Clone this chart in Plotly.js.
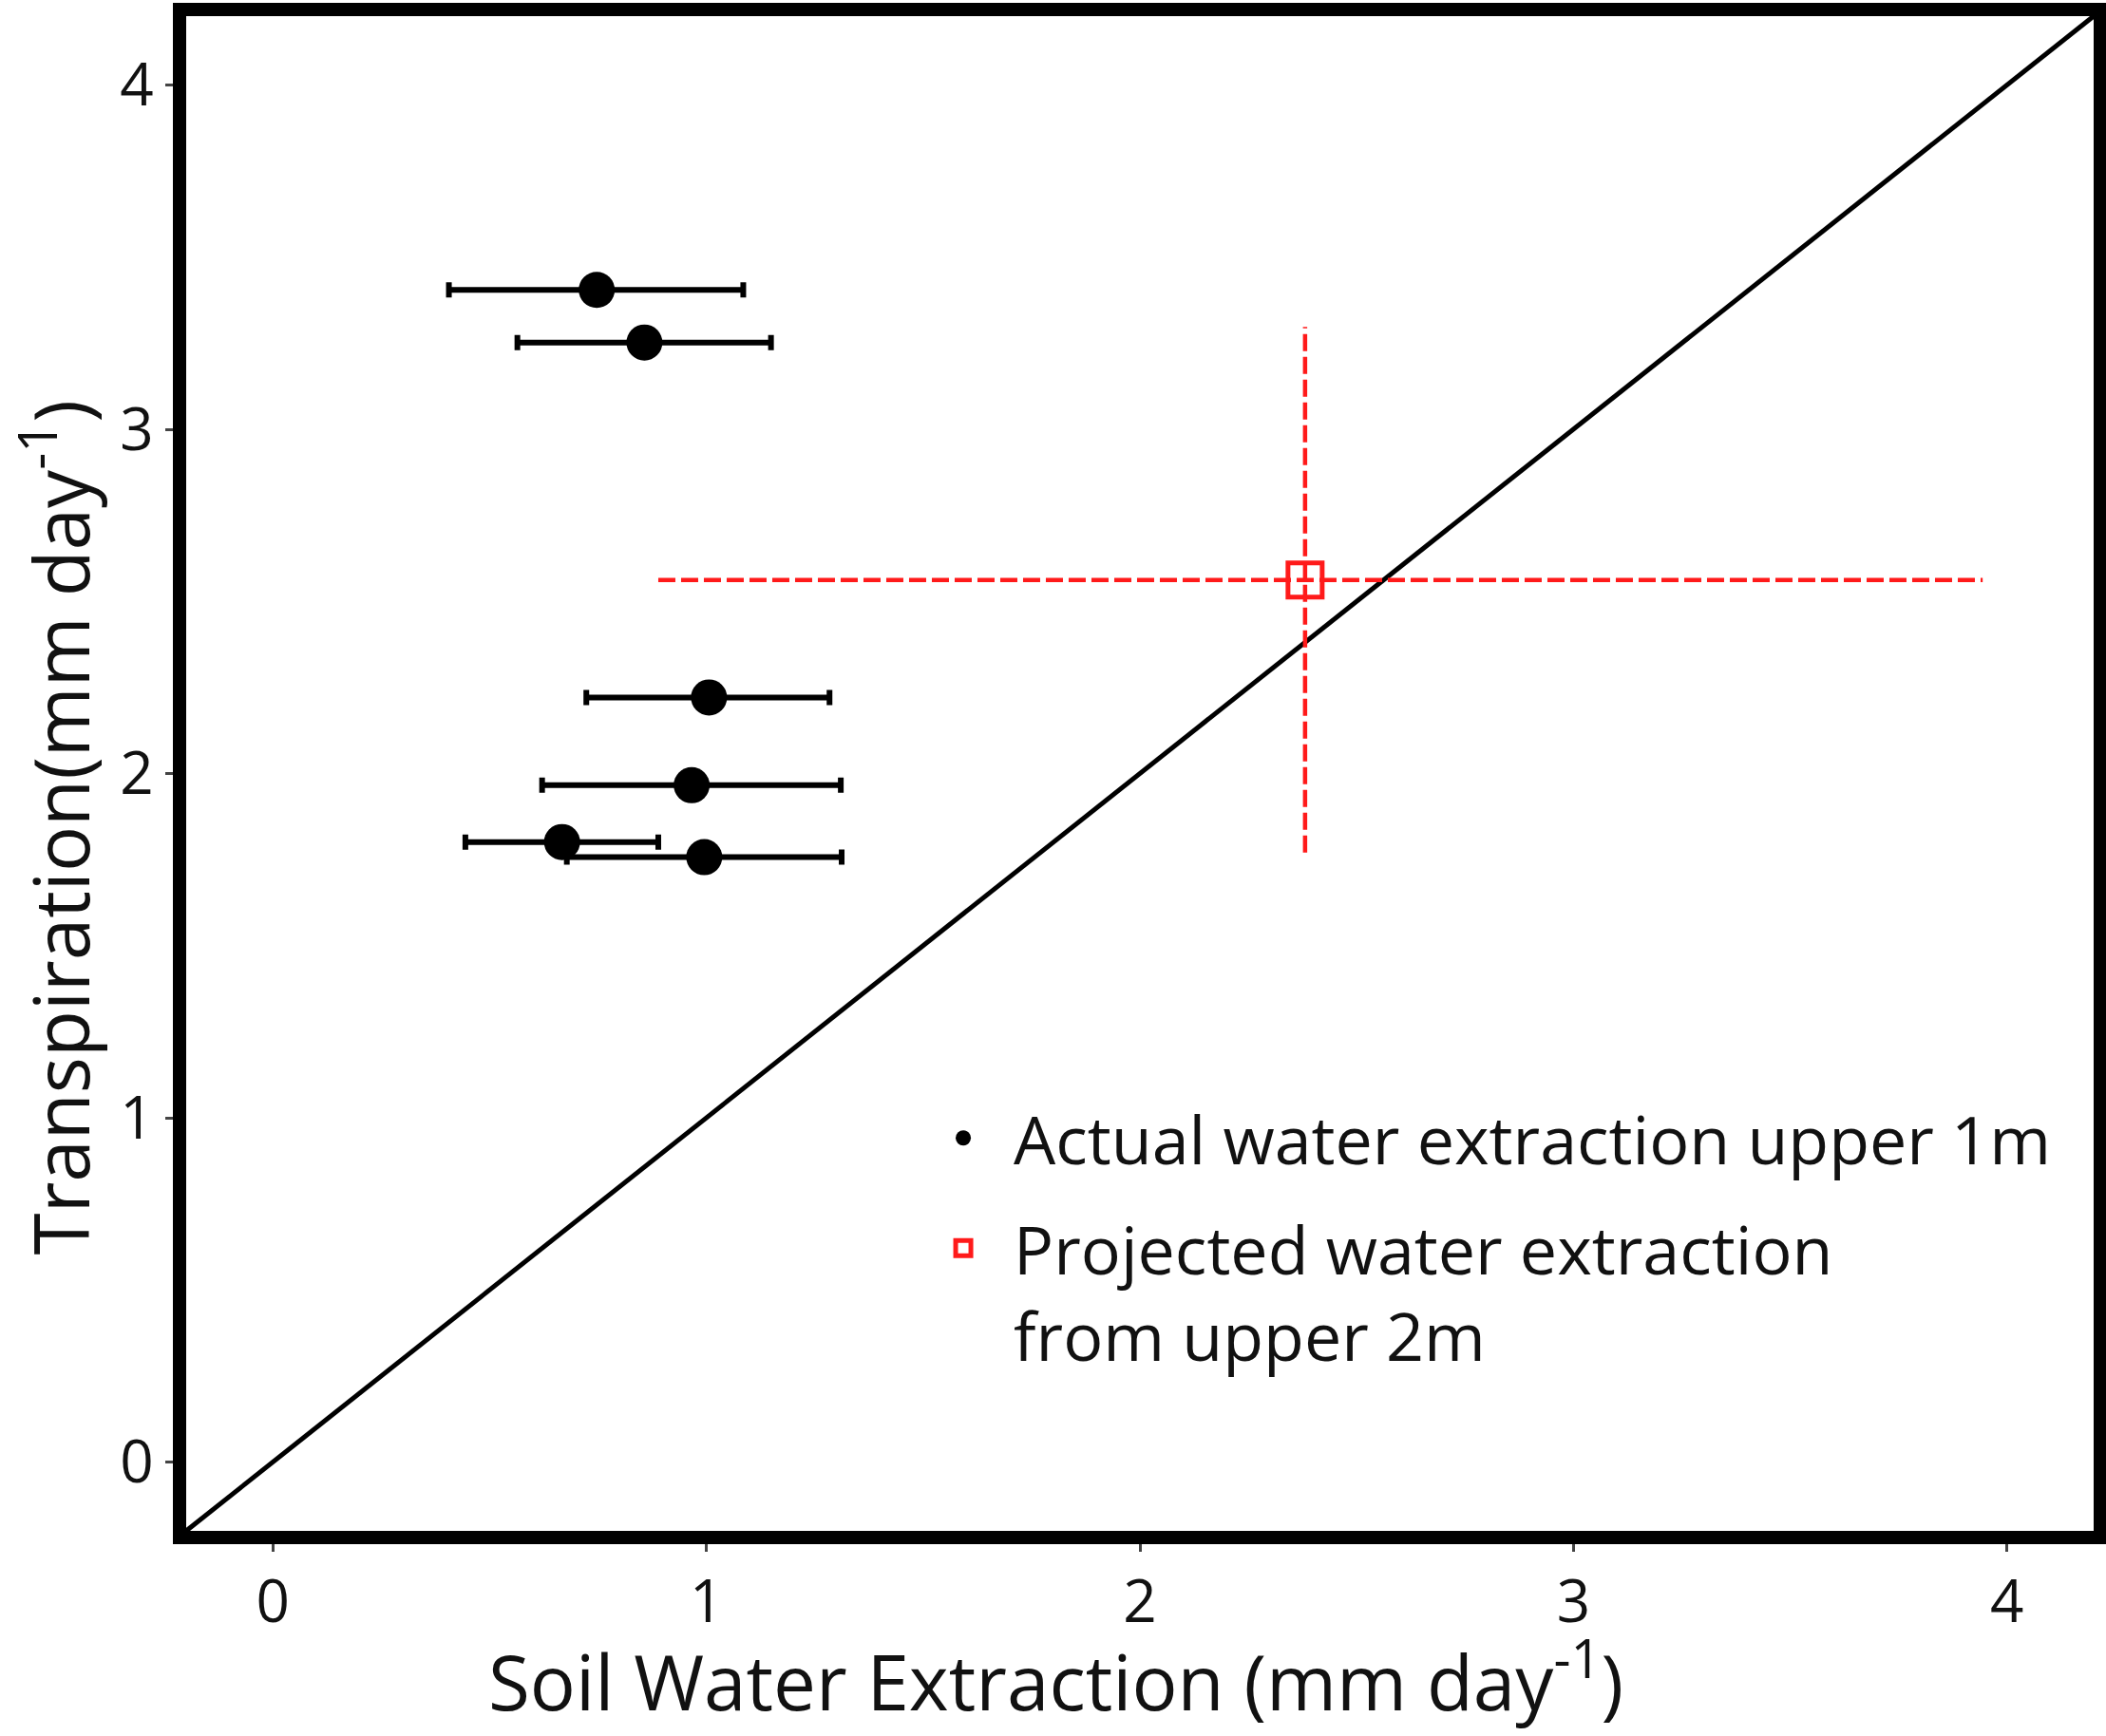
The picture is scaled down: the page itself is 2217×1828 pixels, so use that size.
<!DOCTYPE html>
<html>
<head>
<meta charset="utf-8">
<script src="https://cdn.plot.ly/plotly-3.0.1.min.js"></script>
<style>
  html, body { margin: 0; padding: 0; background: #fff; }
  #plot { width: 2217px; height: 1828px; }
</style>
</head>
<body>
<div id="plot"></div>
<script>
"use strict";

// Actual water extraction, upper 1 m (mean ± range on x)
const actualX     = [0.747, 0.857, 1.006, 0.966, 0.667, 0.995];
const actualY     = [3.405, 3.252, 2.221, 1.966, 1.801, 1.757];
const actualXLow  = [0.406, 0.564, 0.723, 0.621, 0.444, 0.678];
const actualXHigh = [1.085, 1.149, 1.284, 1.310, 0.889, 1.312];

// Projected water extraction from upper 2 m
const projX = [2.381];
const projY = [2.562];
const projXRange = [0.889, 3.944];
const projYRange = [1.770, 3.297];

// 1:1 reference line
const oneToOne = [-0.2, 4.2];

const axisTicks = [0, 1, 2, 3, 4];
const FONT = "'Open Sans', 'Noto Sans', sans-serif";

const traces = [
    { type: "scatter", mode: "lines",
      x: oneToOne, y: oneToOne,
      line: { color: "#000", width: 5 },
      hoverinfo: "skip", showlegend: false },
    // dashed spread of the projection, both directions
    { type: "scatter", mode: "lines",
      x: projXRange, y: [projY[0], projY[0]],
      line: { color: "#ff1a1a", width: 4.5, dash: "18px,6px" },
      hoverinfo: "skip", showlegend: false },
    { type: "scatter", mode: "lines",
      x: [projX[0], projX[0]], y: projYRange,
      line: { color: "#ff1a1a", width: 4.5, dash: "18px,6px" },
      hoverinfo: "skip", showlegend: false },
    { type: "scatter", mode: "markers",
      x: actualX, y: actualY,
      error_x: {
          type: "data", symmetric: false,
          array: actualXHigh.map((h, i) => h - actualX[i]),
          arrayminus: actualX.map((x, i) => x - actualXLow[i]),
          color: "#000", thickness: 6, width: 8,
      },
      marker: { color: "#000", size: 38 },
      name: "Actual water extraction upper 1m", legendgroup: "a" },
    { type: "scatter", mode: "markers",
      x: projX, y: projY,
      marker: { symbol: "square-open", color: "#ff1a1a", size: 36,
                line: { color: "#ff1a1a", width: 5 } },
      name: "Projected water extraction<br>from upper 2m", legendgroup: "b" },
];

const axisCommon = {
    range: [-0.2, 4.2], tickvals: axisTicks,
    showgrid: false, zeroline: false,
    showline: true, mirror: true, linecolor: "#000", linewidth: 14,
    ticks: "outside", ticklen: 8, tickwidth: 3, tickcolor: "#444",
    tickfont: { family: FONT, size: 62, color: "#111" },
};

const layout = {
    width: 2217, height: 1828,
    margin: { l: 196, r: 13, t: 17, b: 216 },
    paper_bgcolor: "#fff", plot_bgcolor: "#fff",
    font: { family: FONT, color: "#111" },
    xaxis: Object.assign({}, axisCommon),
    yaxis: Object.assign({}, axisCommon),
    showlegend: true,
    legend: {
        x: 0.381, y: 0.292, xanchor: "left", yanchor: "top",
        font: { family: FONT, size: 70, color: "#111" },
        bgcolor: "rgba(0,0,0,0)", valign: "top",
        tracegroupgap: 22, itemwidth: 96,
    },
    annotations: [
        { text: "Soil Water Extraction (mm day<sup>-1</sup>)",
          xref: "paper", yref: "paper", x: 0.456, y: -0.096,
          xanchor: "center", yanchor: "middle", showarrow: false,
          font: { family: FONT, size: 80, color: "#111" } },
        { text: "Transpiration(mm day<sup>-1</sup>)",
          xref: "paper", yref: "paper", x: -0.068, y: 0.4646,
          xanchor: "center", yanchor: "middle", showarrow: false,
          textangle: -90,
          font: { family: FONT, size: 80, color: "#111" } },
    ],
};

Plotly.newPlot("plot", traces, layout, { displayModeBar: false, staticPlot: true });
</script>
</body>
</html>
